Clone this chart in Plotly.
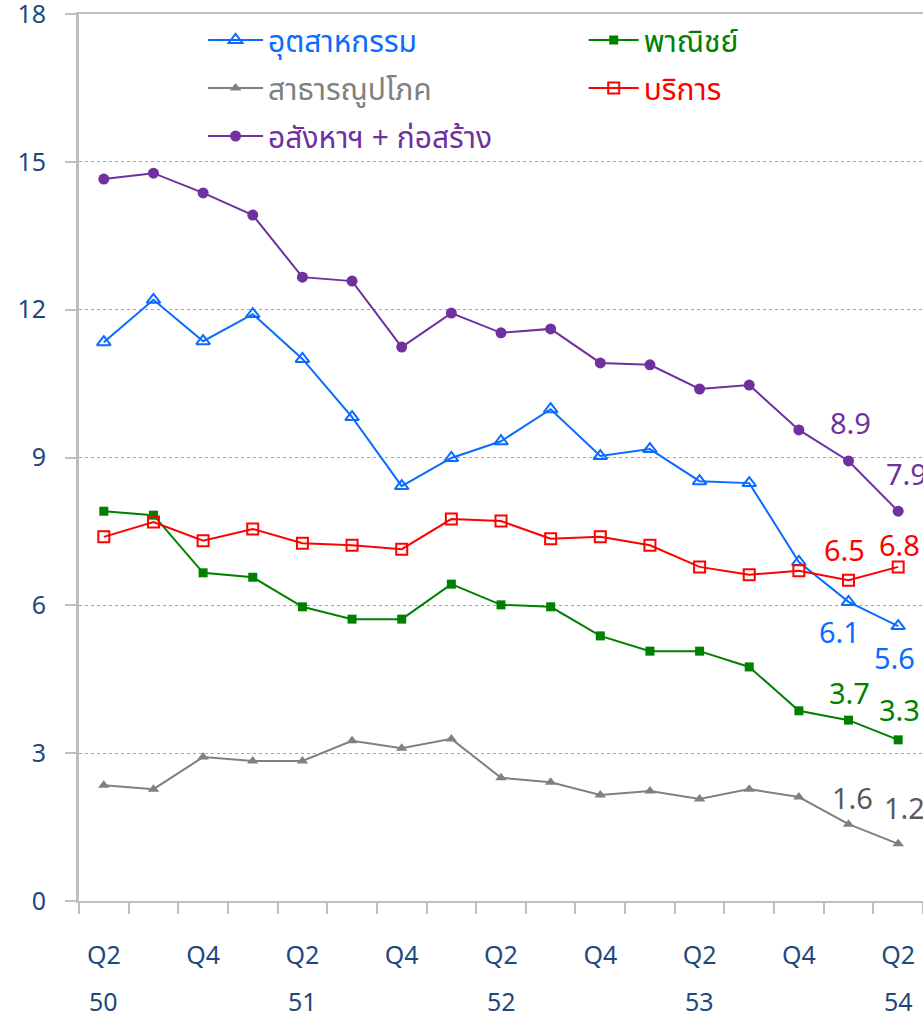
import plotly.graph_objects as go

quarters = ["Q2", "Q3", "Q4", "Q1", "Q2", "Q3", "Q4", "Q1", "Q2", "Q3", "Q4", "Q1", "Q2", "Q3", "Q4", "Q1", "Q2"]
years = ["50", "", "", "", "51", "", "", "", "52", "", "", "", "53", "", "", "", "54"]

industry = [11.34, 12.20, 11.36, 11.91, 11.00, 9.82, 8.42, 8.99, 9.33, 9.98, 9.03, 9.17, 8.52, 8.48, 6.88, 6.07, 5.58]
commerce = [7.91, 7.83, 6.66, 6.57, 5.97, 5.72, 5.72, 6.43, 6.01, 5.97, 5.38, 5.07, 5.07, 4.75, 3.86, 3.67, 3.27]
utilities = [2.35, 2.27, 2.92, 2.84, 2.84, 3.25, 3.10, 3.29, 2.50, 2.41, 2.15, 2.23, 2.07, 2.27, 2.11, 1.56, 1.16]
services = [7.39, 7.69, 7.31, 7.55, 7.26, 7.22, 7.14, 7.75, 7.71, 7.35, 7.39, 7.22, 6.78, 6.62, 6.70, 6.51, 6.78]
realestate = [14.65, 14.77, 14.37, 13.92, 12.66, 12.58, 11.24, 11.93, 11.53, 11.61, 10.92, 10.88, 10.39, 10.47, 9.56, 8.93, 7.91]

names = ["อุตสาหกรรม", "พาณิชย์", "สาธารณูปโภค", "บริการ", "อสังหาฯ + ก่อสร้าง"]
colors = ["#0A6CFF", "#008000", "#808080", "#FF0000", "#7030A0"]
label_colors = ["#0A6CFF", "#008000", "#595959", "#FF0000", "#7030A0"]
y_ticks = [0, 3, 6, 9, 12, 15, 18]

x = list(range(len(quarters)))
FONT = "Tahoma, 'Noto Sans Thai', 'Noto Sans', sans-serif"

fig = go.Figure()

series = [
    (industry, dict(symbol="triangle-up-open", size=12, line=dict(width=2)), "legend"),
    (commerce, dict(symbol="square", size=9), "legend2"),
    (utilities, dict(symbol="triangle-up", size=10), "legend"),
    (services, dict(symbol="square-open", size=11, line=dict(width=2)), "legend2"),
    (realestate, dict(symbol="circle", size=11), "legend"),
]

for i, (vals, mk, lg) in enumerate(series):
    mk = dict(mk)
    mk["color"] = colors[i]
    fig.add_trace(go.Scatter(
        x=x, y=vals, mode="lines+markers",
        name=f'<span style="color:{colors[i]}">{names[i]}</span>',
        line=dict(color=colors[i], width=2), marker=mk,
        legend=lg, legendgroup=names[i],
    ))

# data labels on last two points
label_offsets = {
    0: [(-9, -32), (-4, -34)],
    1: [(1, 25), (1, 28)],
    2: [(4, 24), (6, 34)],
    3: [(-4, 28), (1, 20)],
    4: [(2, 36), (8, 35)],
}
all_series = [industry, commerce, utilities, services, realestate]
for i, vals in enumerate(all_series):
    for k, idx in enumerate([len(x) - 2, len(x) - 1]):
        dx, dy = label_offsets[i][k]
        fig.add_annotation(
            x=x[idx], y=vals[idx], text=f"{vals[idx]:.1f}", showarrow=False,
            xshift=dx, yshift=dy, font=dict(size=29, color=label_colors[i], family=FONT),
        )

tickvals = [i for i, q in enumerate(quarters) if q in ("Q2", "Q4")]
ticktext = [quarters[i] for i in tickvals]

# year labels under the quarter labels
for i, yr in enumerate(years):
    if yr:
        fig.add_annotation(
            x=x[i], y=0, yref="paper", text=yr, showarrow=False,
            yanchor="middle", yshift=-102,
            font=dict(size=25, color="#1F497D", family=FONT),
        )

fig.update_layout(
    width=923, height=1017,
    margin=dict(l=79, r=0, t=14, b=116),
    plot_bgcolor="white", paper_bgcolor="white",
    font=dict(family=FONT, color="#1F497D", size=25),
    showlegend=True,
    legend=dict(x=0.147, y=1.0, xanchor="left", yanchor="top",
                font=dict(size=30, family=FONT), bgcolor="rgba(0,0,0,0)",
                traceorder="grouped", tracegroupgap=6, itemwidth=55),
    legend2=dict(x=0.598, y=1.0, xanchor="left", yanchor="top",
                 font=dict(size=30, family=FONT), bgcolor="rgba(0,0,0,0)",
                 traceorder="grouped", tracegroupgap=6, itemwidth=50),
    xaxis=dict(
        range=[-0.5, 16.5], tickmode="array", tickvals=tickvals, ticktext=ticktext,
        ticks="", showgrid=False, zeroline=False, automargin=False,
        showline=True, linecolor="#BFBFBF", linewidth=2, mirror=True,
        ticklabelstandoff=31,
        tickfont=dict(size=25, color="#1F497D"),
        minor=dict(tickmode="linear", tick0=-0.5, dtick=1, ticks="outside",
                   ticklen=11, tickcolor="#BFBFBF", tickwidth=2, showgrid=False),
    ),
    yaxis=dict(
        range=[0, 18], tickmode="array", tickvals=y_ticks,
        showgrid=True, gridcolor="#A6A6A6", griddash="dot", gridwidth=1,
        zeroline=False, showline=True, linecolor="#BFBFBF", linewidth=3,
        ticks="outside", ticklen=11, tickcolor="#BFBFBF", tickwidth=2,
        ticklabelstandoff=14, automargin=False, ticklabeloverflow="allow",
        tickfont=dict(size=25, color="#1F497D"),
    ),
)

fig.write_html(
    "out.html",
    config={"displayModeBar": False},
    post_script="document.body.style.margin='0';document.body.style.overflow='hidden';",
)
